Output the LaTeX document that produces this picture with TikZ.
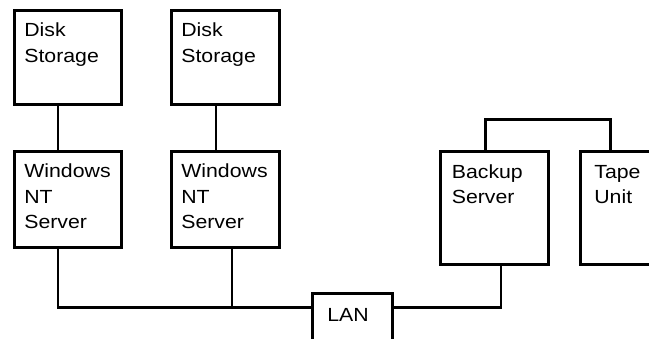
\documentclass[tikz,border=0pt]{standalone}
\usepackage{fontspec}
\setmainfont{Liberation Sans}[FakeStretch=1.12]
\usetikzlibrary{positioning}
\newcommand{\unitfont}{\fontsize{19pt}{25.5pt}\selectfont}
\tikzset{
	unit/.style={draw, line width=2.7pt, anchor=north west, inner ysep=0pt, inner xsep=10pt, align=left, text width=87pt, text height=26.5pt, text depth=67.5pt, font=\unitfont},
	link/.style={line width=2.7pt},
}

\begin{document}
\begin{tikzpicture}[x=1pt, y=-1pt]
		
		\useasboundingbox (0,0) rectangle (649,339);
		\clip (0,0) rectangle (649,339);
		
		\node (d1) [unit] at (13,9) {Disk\\Storage};
		\node (d2) [unit, text width=88pt] at (170,9) {Disk\\Storage};
		\node (s1) [unit, text depth=69.5pt] at (13,150) {Windows\\NT\\Server};
		\node (s2) [unit, text width=88pt, text depth=69.5pt] at (170,150) {Windows\\NT\\Server};
		\node (bk) [unit, inner xsep=11.5pt, text width=85pt, text depth=86.5pt] at (439,150.5) {Backup\\Server};
		\node (tp) [unit, inner xsep=14pt, text width=81pt, text depth=86.5pt] at (579,150.5) {Tape\\Unit};
		\node (lan) [unit, inner xsep=15pt, text width=50pt, text height=28pt, text depth=60pt] at (311,292.5) {LAN};
		
		\coordinate (lanw) at ([yshift=-15.2pt]lan.north west);
		\coordinate (lane) at ([yshift=-15.2pt]lan.north east);
		
		\begin{scope}[link]
			
			\draw ([xshift=45pt]d1.south west) -- ([xshift=45pt]s1.north west);
			\draw ([xshift=46pt]d2.south west) -- ([xshift=46pt]s2.north west);
			\draw ([xshift=45pt]s1.south west) |- (lanw);
			\draw ([xshift=62pt]s2.south west) -- ([xshift=62pt]s2.south west |- lanw);
			\draw ([xshift=62pt]bk.south west) |- (lane);
			\draw ([xshift=46.7pt]bk.north west) -- ++(0,-31) -| ([xshift=31.7pt]tp.north west);
			
		\end{scope}
		
\end{tikzpicture}
\end{document}
